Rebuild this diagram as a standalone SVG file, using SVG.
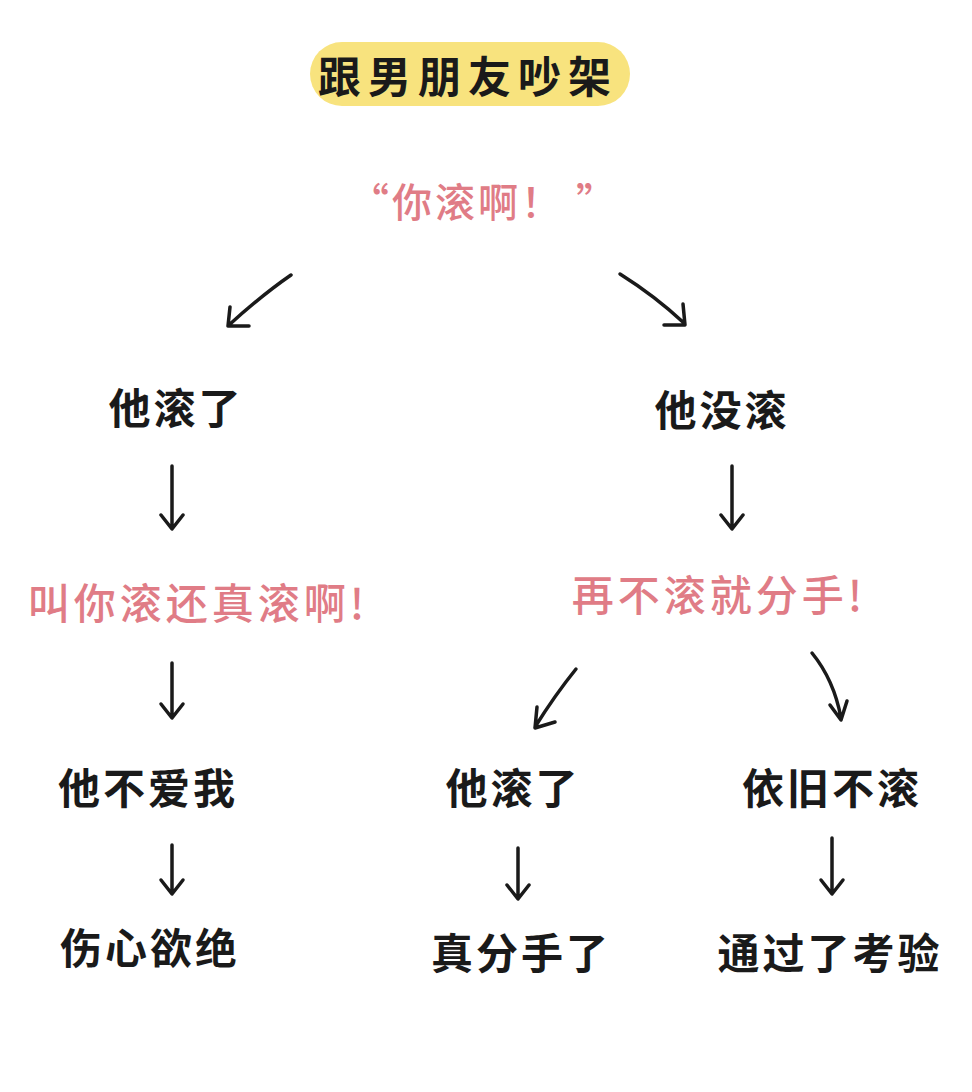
<svg xmlns="http://www.w3.org/2000/svg" width="972" height="1092" viewBox="0 0 972 1092">
<style>
.k{font-family:"Noto Sans CJK SC","Noto Sans",sans-serif;font-size:42px;font-weight:700;fill:#1a1a1a;text-anchor:middle;dominant-baseline:central;letter-spacing:3px}
.p{font-family:"Noto Sans CJK SC","Noto Sans",sans-serif;font-size:42px;font-weight:500;fill:#e07c86;text-anchor:middle;dominant-baseline:central;letter-spacing:4px}
.a{fill:none;stroke:#1a1a1a;stroke-width:3.5;stroke-linecap:round;stroke-linejoin:round}
</style>
<rect width="972" height="1092" fill="#ffffff"/>
<g id="title">
<rect x="310" y="42" width="320" height="64" rx="32" fill="#f8e37e"/>
<text class="k" x="468" y="74" style="font-size:43px;letter-spacing:7px">跟男朋友吵架</text>
</g>
<g id="n-root"><text class="p" x="484" y="200" style="font-size:40px;letter-spacing:3px">“你滚啊！ ”</text></g>
<g id="n-left1"><text class="k" x="176" y="405">他滚了</text></g>
<g id="n-right1"><text class="k" x="722" y="407">他没滚</text></g>
<g id="n-left2"><text class="p" x="198" y="600">叫你滚还真滚啊!</text></g>
<g id="n-right2"><text class="p" x="719" y="592">再不滚就分手!</text></g>
<g id="n-left3"><text class="k" x="148" y="785">他不爱我</text></g>
<g id="n-mid3"><text class="k" x="513" y="785">他滚了</text></g>
<g id="n-right3"><text class="k" x="832" y="785">依旧不滚</text></g>
<g id="n-left4"><text class="k" x="150" y="945">伤心欲绝</text></g>
<g id="n-mid4"><text class="k" x="521" y="950">真分手了</text></g>
<g id="n-right4"><text class="k" x="830" y="950">通过了考验</text></g>
<g id="connectors">
<path class="a" d="M291 275 Q262 295 229 325 M230 307 L228 326 L249 326"/>
<path class="a" d="M620 274 Q655 296 684 323 M683 304 L685 325 L664 325"/>
<path class="a" d="M172 466 L172 528 M161 515 L172 529 L183 515"/>
<path class="a" d="M732 466 L732 528 M721 515 L732 529 L743 515"/>
<path class="a" d="M172 663 L172 717 M161 704 L172 718 L183 704"/>
<path class="a" d="M576 669 Q555 695 535 727 M537 707 L535 728 L555 722"/>
<path class="a" d="M812 653 Q834 680 841 718 M830 705 L841 720 L847 701"/>
<path class="a" d="M172 845 L172 893 M161 880 L172 894 L183 880"/>
<path class="a" d="M518 848 L518 898 M507 885 L518 899 L529 885"/>
<path class="a" d="M832 838 L832 893 M821 880 L832 894 L843 880"/>
</g>
</svg>
